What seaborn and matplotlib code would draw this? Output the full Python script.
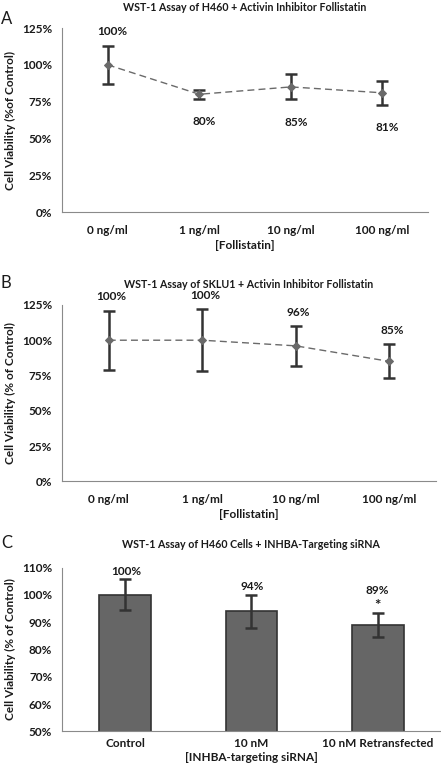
import numpy as np
import matplotlib
matplotlib.use("Agg")
import matplotlib.pyplot as plt
import seaborn as sns
from matplotlib.ticker import PercentFormatter

# ----------------------------------------------------
# Data
# ----------------------------------------------------
doses = ["0 ng/ml", "1 ng/ml", "10 ng/ml", "100 ng/ml"]

h460_vals = [100, 80, 85, 81]
h460_err = [13, 3, 8.5, 8]
h460_labels = ["100%", "80%", "85%", "81%"]
h460_label_above = [True, False, False, False]

sklu1_vals = [100, 100, 96, 85]
sklu1_err = [21, 22, 14, 12]
sklu1_labels = ["100%", "100%", "96%", "85%"]

sirna_groups = ["Control", "10 nM", "10 nM Retransfected"]
sirna_vals = [100, 94, 89]
sirna_err = [5.7, 6, 4.5]
sirna_labels = ["100%", "94%", "89%"]
sirna_signif = ["", "", "*"]

sns.set_style("white")
plt.rcParams["font.family"] = ["Lato", "DejaVu Sans"]
plt.rcParams["font.weight"] = "bold"

TEXT = "#1a1a1a"
SPINE = "#8a8a8a"
ERR = "#333333"
LINE = "#6a6a6a"
BAR = "#666666"
FS = 8.5

fig = plt.figure(figsize=(4.41, 7.66), dpi=100)


def style_axes(ax, n, ymin, ymax, step):
    ax.set_xlim(-0.5, n - 0.5)
    ax.set_ylim(ymin, ymax)
    ax.set_yticks(np.arange(ymin, ymax + 0.1, step))
    ax.yaxis.set_major_formatter(PercentFormatter(decimals=0))
    ax.set_xticks(range(n))
    ax.set_xticks(np.arange(-0.5, n, 1.0), minor=True)
    ax.tick_params(axis="x", which="major", length=0, pad=9, labelsize=FS, colors=TEXT)
    ax.tick_params(axis="x", which="minor", length=4, width=0.8, color=SPINE, direction="out")
    ax.tick_params(axis="y", length=4, width=0.8, color=SPINE, direction="out",
                   labelsize=FS, labelcolor=TEXT, pad=3)
    for side in ["top", "right"]:
        ax.spines[side].set_visible(False)
    for side in ["left", "bottom"]:
        ax.spines[side].set_color(SPINE)
        ax.spines[side].set_linewidth(0.8)
    for lab in ax.get_xticklabels() + ax.get_yticklabels():
        lab.set_fontweight("bold")


def line_panel(rect, vals, errs, labels, above, title, ylabel, dx):
    ax = fig.add_axes(rect)
    sns.pointplot(x=doses, y=vals, ax=ax, color=LINE, markers="D", linestyles="--",
                  errorbar=None, markersize=4.5, linewidth=1.0, zorder=3)
    for ln in ax.lines:
        ln.set_dashes([5, 3])
    ax.errorbar(range(len(doses)), vals, yerr=errs, fmt="none", ecolor=ERR,
                elinewidth=1.8, capsize=4, capthick=1.8, zorder=2, clip_on=False)
    style_axes(ax, len(doses), 0, 125, 25)
    for i, (v, e, lab, up) in enumerate(zip(vals, errs, labels, above)):
        if up:
            ax.annotate(lab, (i, v + e), xytext=(dx, 14), textcoords="offset pixels",
                        ha="center", va="center", fontsize=FS, color=TEXT, fontweight="bold")
        else:
            ax.annotate(lab, (i, v - e), xytext=(dx, -23), textcoords="offset pixels",
                        ha="center", va="center", fontsize=FS, color=TEXT, fontweight="bold")
    ax.set_title(title, fontsize=7.7, fontweight="bold", color=TEXT, pad=12)
    ax.set_ylabel(ylabel, fontsize=FS, fontweight="bold", color=TEXT, labelpad=4)
    ax.set_xlabel("[Follistatin]", fontsize=FS, fontweight="bold", color=TEXT, labelpad=3)
    return ax


# Panel A
line_panel([0.1406, 0.7232, 0.830, 0.2402], h460_vals, h460_err, h460_labels,
           h460_label_above, "WST-1 Assay of H460 + Activin Inhibitor Follistatin",
           "Cell Viability (%of Control)", 5)

# Panel B
line_panel([0.1406, 0.3717, 0.848, 0.2302], sklu1_vals, sklu1_err, sklu1_labels,
           [True] * 4, "WST-1 Assay of SKLU1 + Activin Inhibitor Follistatin",
           "Cell Viability (% of Control)", 3)

# Panel C
axc = fig.add_axes([0.1406, 0.0453, 0.859, 0.2136])
sns.barplot(x=sirna_groups, y=sirna_vals, ax=axc, color=BAR, width=0.41,
            edgecolor=ERR, linewidth=1.2, errorbar=None, saturation=1)
axc.errorbar(range(len(sirna_groups)), sirna_vals, yerr=sirna_err, fmt="none",
             ecolor=ERR, elinewidth=1.8, capsize=4, capthick=1.8, zorder=3)
style_axes(axc, len(sirna_groups), 50, 110, 10)
axc.tick_params(axis="x", which="major", pad=5)
for i, (v, e, lab, sig) in enumerate(zip(sirna_vals, sirna_err, sirna_labels, sirna_signif)):
    if sig:
        axc.annotate(sig, (i, v + e), xytext=(0, 7), textcoords="offset pixels",
                     ha="center", va="center", fontsize=11, color=TEXT, fontweight="bold")
        axc.annotate(lab, (i, v + e), xytext=(0, 22), textcoords="offset pixels",
                     ha="center", va="center", fontsize=FS, color=TEXT, fontweight="bold")
    else:
        axc.annotate(lab, (i, v + e), xytext=(1, 8), textcoords="offset pixels",
                     ha="center", va="center", fontsize=FS, color=TEXT, fontweight="bold")
axc.set_title("WST-1 Assay of H460 Cells + INHBA-Targeting siRNA", fontsize=7.7,
              fontweight="bold", color=TEXT, pad=14)
axc.set_ylabel("Cell Viability (% of Control)", fontsize=FS, fontweight="bold",
               color=TEXT, labelpad=4)
axc.set_xlabel("[INHBA-targeting siRNA]", fontsize=FS, fontweight="bold", color=TEXT,
               labelpad=2)

# Panel letters
for letter, y in [("A", 0.986), ("B", 0.641), ("C", 0.302)]:
    fig.text(0.002, y, letter, fontsize=12, fontweight="normal", color=TEXT,
             ha="left", va="top")

fig.savefig("out.png", dpi=100)
